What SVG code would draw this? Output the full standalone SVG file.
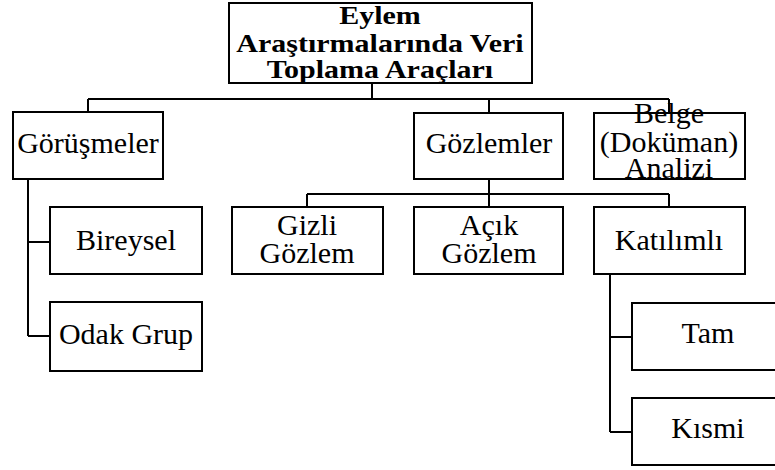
<svg xmlns="http://www.w3.org/2000/svg" width="775" height="470" viewBox="0 0 775 470">
<style>
rect{fill:#fff;stroke:#000;stroke-width:2}
text{font-family:'Liberation Serif','Times New Roman',Times,'DejaVu Serif',serif;font-size:30px;fill:#000;text-anchor:middle}
.b{font-weight:bold}
#connectors path{fill:none;stroke:#000;stroke-width:2}
</style>
<rect x="0" y="0" width="775" height="470" style="stroke:none"/>
<g id="connectors">
<path d="M372 83V99M88 99H669M88 99V112M489 99V113M669 99V113"/>
<path d="M489 179V194M307 194H669M307 194V207M489 194V207M669 194V207"/>
<path d="M28 179V336M28 242H50M28 336H50"/>
<path d="M610 274V432M610 337H632M610 432H632"/>
</g>
<g id="root"><rect x="229" y="3" width="303" height="80"/>
<text class="b" transform="translate(380,24) scale(1,0.86)">Eylem</text>
<text class="b" transform="translate(380,52) scale(1,0.86)">Araştırmalarında Veri</text>
<text class="b" transform="translate(380,78) scale(1,0.86)">Toplama Araçları</text></g>
<g id="gorusmeler"><rect x="13" y="112" width="150" height="67"/><text x="88" y="153">Görüşmeler</text></g>
<g id="gozlemler"><rect x="414" y="113" width="149" height="66"/><text x="489" y="153">Gözlemler</text></g>
<g id="belge"><rect x="594" y="113" width="151" height="66"/>
<text x="669" y="123">Belge</text><text x="669" y="152">(Doküman)</text><text x="669" y="178">Analizi</text></g>
<g id="bireysel"><rect x="50" y="207" width="152" height="67"/><text x="126" y="250">Bireysel</text></g>
<g id="odak"><rect x="50" y="302" width="152" height="69"/><text x="126" y="344">Odak Grup</text></g>
<g id="gizli"><rect x="232" y="207" width="151" height="67"/><text x="307" y="235">Gizli</text><text x="307" y="263">Gözlem</text></g>
<g id="acik"><rect x="414" y="207" width="149" height="67"/><text x="489" y="235">Açık</text><text x="489" y="263">Gözlem</text></g>
<g id="katilimli"><rect x="594" y="207" width="151" height="67"/><text x="669" y="250">Katılımlı</text></g>
<g id="tam"><rect x="632" y="303" width="152" height="67"/><text x="708" y="343">Tam</text></g>
<g id="kismi"><rect x="632" y="398" width="152" height="67"/><text x="708" y="438">Kısmi</text></g>
</svg>
